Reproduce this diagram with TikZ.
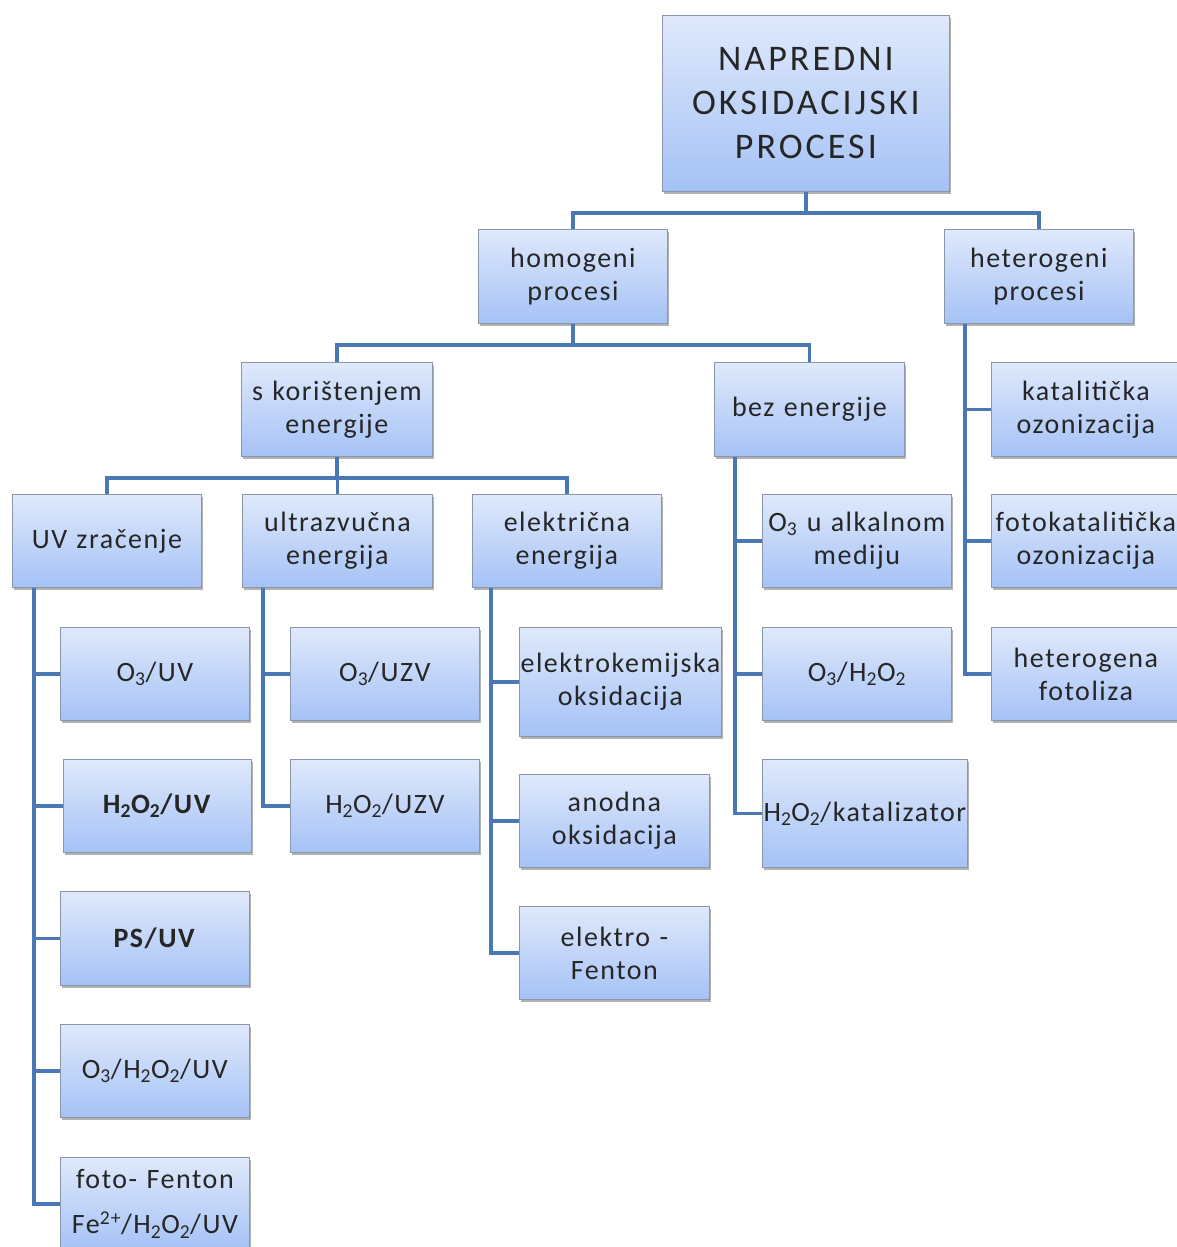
\documentclass[tikz,border=0pt]{standalone}
\usepackage{fontspec}
\setmainfont{Carlito}[LetterSpace=5.5, WordSpace=0.7]
\newfontfamily\topfont{Carlito}[LetterSpace=8.5, WordSpace=0.8]
\usetikzlibrary{shadows}
\definecolor{linec}{HTML}{4A78B4}
\definecolor{topc}{HTML}{DFE9FB}
\definecolor{botc}{HTML}{A5C2F6}
\definecolor{bordc}{HTML}{8A97A8}
\newcommand{\sub}[1]{\textsubscript{#1}}
\hyphenpenalty=10000
\exhyphenpenalty=10000
\begin{document}
\begin{tikzpicture}[x=1pt,y=-1pt,
  box/.style={draw=bordc, line width=0.8pt, top color=topc, bottom color=botc,
    anchor=north west, inner sep=0pt, align=center,
    font=\fontsize{28}{33}\selectfont, text=black!85,
    drop shadow={shadow xshift=2pt, shadow yshift=-2.5pt, opacity=0.3, fill=black}},
  sz/.style 2 args={text width=#1pt, minimum height=#2pt},
  conn/.style={draw=linec, line width=3.8pt},
]
\useasboundingbox (0,0) rectangle (1176,1247);

% boxes
\node[box, sz={287}{176}, font=\topfont\fontsize{36}{44}\selectfont] (top) at (662,15) {NAPREDNI\\OKSIDACIJSKI\\PROCESI};
\node[box, sz={189}{94}] (homo) at (478,229) {homogeni\\procesi};
\node[box, sz={189}{94}] (het) at (944,229) {heterogeni\\procesi};
\node[box, sz={191}{94}] (skor) at (241,362) {s korištenjem\\energije};
\node[box, sz={190}{94}] (bez) at (714,362) {bez energije};
\node[box, sz={189}{93}] (uv) at (12,494) {UV zračenje};
\node[box, sz={190}{93}] (ultra) at (242,494) {ultrazvučna\\energija};
\node[box, sz={189}{93}] (elek) at (472,494) {električna\\energija};
\node[box, sz={189}{93}] (o3uv) at (60,627) {O\sub{3}/UV};
\node[box, sz={188}{93}] (h2o2uv) at (63,759) {\textbf{H\sub{2}O\sub{2}/UV}};
\node[box, sz={189}{94}] (psuv) at (60,891) {\textbf{PS/UV}};
\node[box, sz={189}{93}] (o3h2o2uv) at (60,1024) {O\sub{3}/H\sub{2}O\sub{2}/UV};
\node[box, sz={189}{93}, font=\fontsize{28}{45}\selectfont] (foto) at (60,1157) {foto- Fenton\\Fe\textsuperscript{2+}/H\sub{2}O\sub{2}/UV};
\node[box, sz={189}{93}] (o3uzv) at (290,627) {O\sub{3}/UZV};
\node[box, sz={189}{93}] (h2o2uzv) at (290,759) {H\sub{2}O\sub{2}/UZV};
\node[box, sz={202}{109}] (ekem) at (519,627) {elektrokemijska\\oksidacija};
\node[box, sz={190}{93}] (anod) at (519,774) {anodna\\oksidacija};
\node[box, sz={190}{93}] (efent) at (519,906) {elektro -\\Fenton};
\node[box, sz={189}{93}] (alk) at (762,494) {O\sub{3} u alkalnom\\mediju};
\node[box, sz={189}{93}] (o3h2o2) at (762,627) {O\sub{3}/H\sub{2}O\sub{2}};
\node[box, sz={205}{108}] (kat) at (762,759) {H\sub{2}O\sub{2}/katalizator};
\node[box, sz={189}{94}] (katoz) at (991,362) {katalitička\\ozonizacija};
\node[box, sz={189}{93}] (fotokat) at (991,494) {fotokatalitička\\ozonizacija};
\node[box, sz={189}{93}] (hetfot) at (991,627) {heterogena\\fotoliza};

% connectors
\draw[conn] (top.south) -- ++(0,21) -| (homo.north);
\draw[conn] (top.south) -- ++(0,21) -| (het.north);
\draw[conn] (homo.south) -- ++(0,21) -| (skor.north);
\draw[conn] (homo.south) -- ++(0,21) -| (bez.north);
\draw[conn] (skor.south) -- ++(0,21) -| (uv.north);
\draw[conn] (skor.south) -- ++(0,21) -| (ultra.north);
\draw[conn] (skor.south) -- ++(0,21) -| (elek.north);

\foreach \c in {o3uv,h2o2uv,psuv,o3h2o2uv,foto}
  \draw[conn] ([xshift=22pt]uv.south west) |- (\c.west);
\foreach \c in {o3uzv,h2o2uzv}
  \draw[conn] ([xshift=21pt]ultra.south west) |- (\c.west);
\foreach \c in {ekem,anod,efent}
  \draw[conn] ([xshift=19pt]elek.south west) |- (\c.west);
\foreach \c in {alk,o3h2o2,kat}
  \draw[conn] ([xshift=21pt]bez.south west) |- (\c.west);
\foreach \c in {katoz,fotokat,hetfot}
  \draw[conn] ([xshift=21pt]het.south west) |- (\c.west);
\end{tikzpicture}
\end{document}
